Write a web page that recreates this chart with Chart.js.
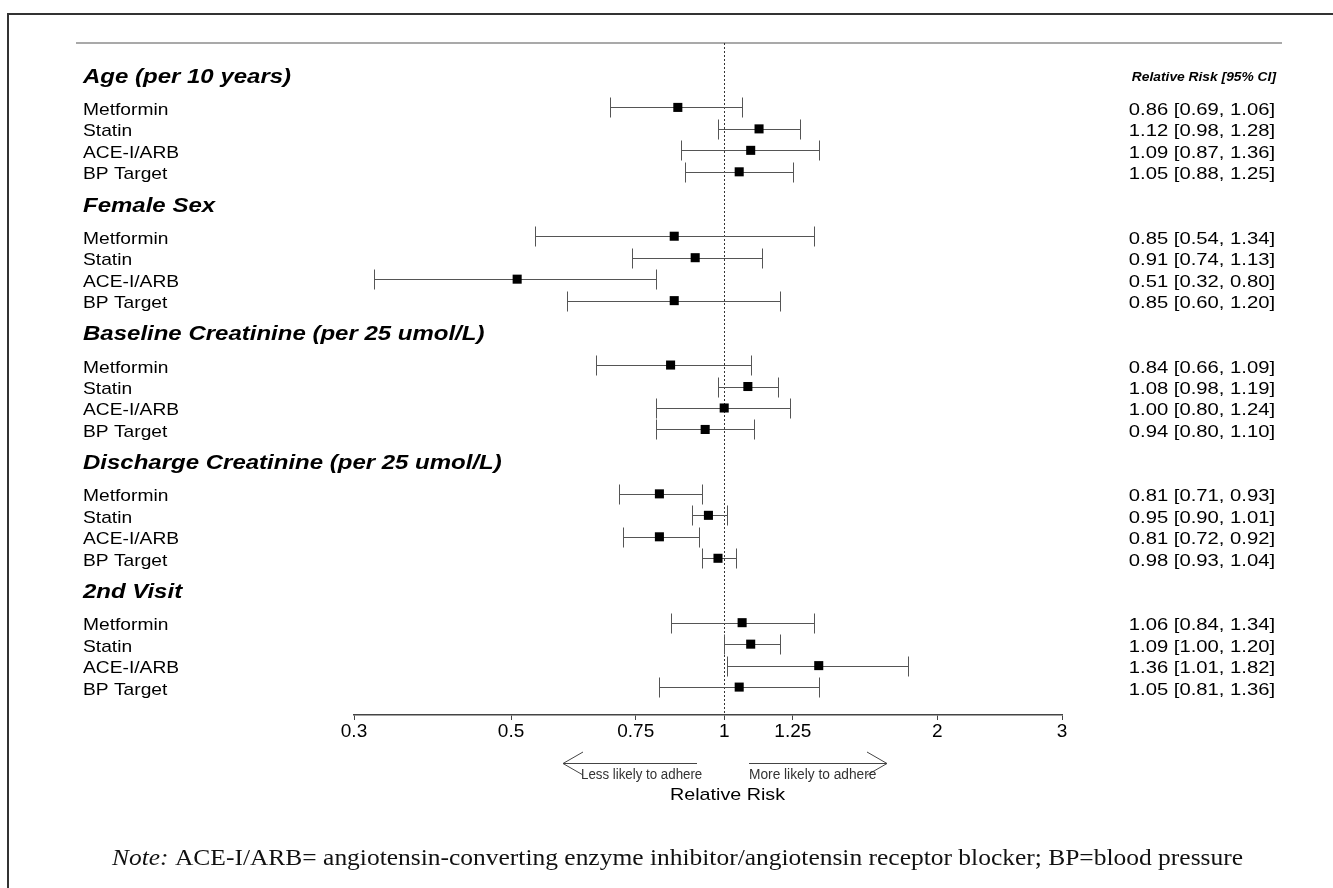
<!DOCTYPE html>
<html>
<head>
<meta charset="utf-8">
<script src="https://cdn.jsdelivr.net/npm/chart.js@4.4.0/dist/chart.umd.min.js"></script>
<style>
  html,body{margin:0;padding:0;background:#fff;}
  #wrap{position:relative;width:1333px;height:888px;overflow:hidden;}
  #frame{position:absolute;left:7px;top:13px;right:-10px;bottom:-10px;border-top:2px solid #333;border-left:2px solid #333;}
  canvas{position:absolute;left:0;top:0;}
</style>
</head>
<body>
<div id="wrap">
  <div id="frame"></div>
  <canvas id="forest" width="1333" height="888" style="width:1333px;height:888px"></canvas>
</div>
<script>
const groups = ['Age (per 10 years)', 'Female Sex', 'Baseline Creatinine (per 25 umol/L)',
                'Discharge Creatinine (per 25 umol/L)', '2nd Visit'];
const drugs = ['Metformin', 'Statin', 'ACE-I/ARB', 'BP Target'];

// relative risk and 95% CI, 4 drugs per group
const rr    = [0.86, 1.12, 1.09, 1.05,  0.85, 0.91, 0.51, 0.85,  0.84, 1.08, 1.00, 0.94,  0.81, 0.95, 0.81, 0.98,  1.06, 1.09, 1.36, 1.05];
const lower = [0.69, 0.98, 0.87, 0.88,  0.54, 0.74, 0.32, 0.60,  0.66, 0.98, 0.80, 0.80,  0.71, 0.90, 0.72, 0.93,  0.84, 1.00, 1.01, 0.81];
const upper = [1.06, 1.28, 1.36, 1.25,  1.34, 1.13, 0.80, 1.20,  1.09, 1.19, 1.24, 1.10,  0.93, 1.01, 0.92, 1.04,  1.34, 1.20, 1.82, 1.36];

const xTicks = [0.3, 0.5, 0.75, 1, 1.25, 2, 3];

const SANS = '"Liberation Sans", Arial, sans-serif';
const SERIF = '"Liberation Serif", "Times New Roman", serif';

// vertical slots: header takes one slot, then 1.5 gap, 4 rows, 1.5 gap
function rowPos(i){ return Math.floor(i / 4) * 6 + 1.5 + (i % 4); }
function headPos(g){ return g * 6; }

function txt(ctx, s, x, y, font, align, sx, color){
  ctx.save();
  ctx.translate(x, y);
  ctx.scale(sx, 1);
  ctx.font = font;
  ctx.textAlign = align;
  ctx.textBaseline = 'alphabetic';
  ctx.fillStyle = color || '#000';
  ctx.fillText(s, 0, 0);
  ctx.restore();
}

const fmt = v => v.toFixed(2);

const forestPlugin = {
  id: 'forest',
  beforeDatasetsDraw(chart){
    const {ctx, chartArea, scales: {x, y}} = chart;
    ctx.save();
    // top rule
    ctx.strokeStyle = '#8c8c8c';
    ctx.lineWidth = 1.5;
    ctx.beginPath();
    ctx.moveTo(76, chartArea.top);
    ctx.lineTo(1282, chartArea.top);
    ctx.stroke();

    // line of no effect
    const x1 = Math.round(x.getPixelForValue(1)) + 0.5;
    ctx.strokeStyle = '#333';
    ctx.lineWidth = 1;
    ctx.setLineDash([2, 2]);
    ctx.beginPath();
    ctx.moveTo(x1, chartArea.top);
    ctx.lineTo(x1, chartArea.bottom);
    ctx.stroke();
    ctx.setLineDash([]);

    // confidence intervals
    ctx.strokeStyle = '#555';
    rr.forEach((v, i) => {
      const yy = Math.round(y.getPixelForValue(rowPos(i))) + 0.5;
      const a = Math.round(x.getPixelForValue(lower[i])) + 0.5;
      const b = Math.round(x.getPixelForValue(upper[i])) + 0.5;
      ctx.beginPath();
      ctx.moveTo(a, yy); ctx.lineTo(b, yy);
      ctx.moveTo(a, yy - 10); ctx.lineTo(a, yy + 10);
      ctx.moveTo(b, yy - 10); ctx.lineTo(b, yy + 10);
      ctx.stroke();
    });
    ctx.restore();
  },
  afterDraw(chart){
    const {ctx, scales: {y}} = chart;

    groups.forEach((g, gi) => {
      txt(ctx, g, 83, y.getPixelForValue(headPos(gi)) + 7.5, 'bold italic 20px ' + SANS, 'left', 1.2);
    });
    rr.forEach((v, i) => {
      const yy = y.getPixelForValue(rowPos(i)) + 7.5;
      txt(ctx, drugs[i % 4], 83, yy, '17px ' + SANS, 'left', 1.13);
      txt(ctx, fmt(v) + ' [' + fmt(lower[i]) + ', ' + fmt(upper[i]) + ']', 1275, yy, '17px ' + SANS, 'right', 1.19);
    });
    txt(ctx, 'Relative Risk [95% CI]', 1276, 81, 'bold italic 12px ' + SANS, 'right', 1.15);

    // direction arrows
    ctx.save();
    ctx.strokeStyle = '#444';
    ctx.lineWidth = 1;
    ctx.beginPath();
    ctx.moveTo(697, 763.5); ctx.lineTo(563, 763.5);
    ctx.moveTo(583, 752); ctx.lineTo(563, 763.5); ctx.lineTo(583, 775);
    ctx.moveTo(749, 763.5); ctx.lineTo(887, 763.5);
    ctx.moveTo(867, 752); ctx.lineTo(887, 763.5); ctx.lineTo(867, 775);
    ctx.stroke();
    ctx.restore();
    txt(ctx, 'Less likely to adhere', 581, 779, '14px ' + SANS, 'left', 0.95, '#333');
    txt(ctx, 'More likely to adhere', 749, 779, '14px ' + SANS, 'left', 0.98, '#333');
    txt(ctx, 'Relative Risk', 727.5, 800, '17px ' + SANS, 'center', 1.16);

    // note line, fitted to its width in the figure
    const noteA = 'Note:', noteB = ' ACE-I/ARB= angiotensin-converting enzyme inhibitor/angiotensin receptor blocker; BP=blood pressure';
    ctx.save();
    ctx.font = 'italic 24px ' + SERIF;
    const wa = ctx.measureText(noteA).width;
    ctx.font = '24px ' + SERIF;
    const wb = ctx.measureText(noteB).width;
    const sx = 1131 / (wa + wb);
    ctx.translate(112, 865);
    ctx.scale(sx, 1);
    ctx.fillStyle = '#111';
    ctx.textBaseline = 'alphabetic';
    ctx.font = 'italic 24px ' + SERIF;
    ctx.fillText(noteA, 0, 0);
    ctx.font = '24px ' + SERIF;
    ctx.fillText(noteB, wa, 0);
    ctx.restore();
  }
};

new Chart(document.getElementById('forest'), {
  type: 'scatter',
  data: {
    datasets: [{
      data: rr.map((v, i) => ({x: v, y: rowPos(i)})),
      pointStyle: 'rect',
      pointRadius: 6.4,
      pointHoverRadius: 6.4,
      pointBackgroundColor: '#000',
      pointBorderWidth: 0
    }]
  },
  options: {
    responsive: false,
    animation: false,
    events: [],
    layout: {padding: {left: 354, right: 271, top: 43, bottom: 143}},
    plugins: {legend: {display: false}, tooltip: {enabled: false}},
    scales: {
      x: {
        type: 'logarithmic',
        min: 0.3,
        max: 3,
        afterBuildTicks: s => { s.ticks = xTicks.map(v => ({value: v})); },
        afterFit: s => { s.height = 30; },
        ticks: {
          autoSkip: false, maxRotation: 0, padding: 0, color: '#000',
          font: {family: SANS, size: 19},
          callback: v => String(v)
        },
        grid: {drawOnChartArea: false, drawTicks: true, tickLength: 5, color: '#444', lineWidth: 1},
        border: {display: true, color: '#444', width: 1.5}
      },
      y: {display: false, reverse: true, min: -1.5, max: 29.8}
    }
  },
  plugins: [forestPlugin]
});
</script>
</body>
</html>
